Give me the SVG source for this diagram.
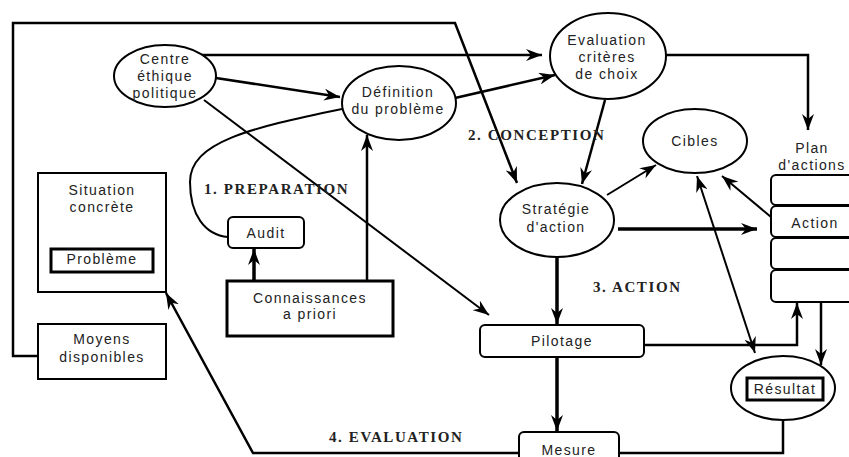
<svg xmlns="http://www.w3.org/2000/svg" width="849" height="457" viewBox="0 0 849 457">
<style>
.n{fill:#fff;stroke:#000;stroke-width:2}
.tk{fill:#fff;stroke:#000;stroke-width:3}
.t{font-family:"Liberation Sans",Arial,sans-serif;font-size:14px;letter-spacing:1.4px;fill:#222;text-anchor:middle}
.lb{font-family:"Liberation Serif","Times New Roman",serif;font-size:15px;font-weight:bold;letter-spacing:1.6px;fill:#222}
.c{fill:none;stroke:#000;stroke-width:2.5;stroke-linejoin:miter}
.c2{fill:none;stroke:#000;stroke-width:2}
.c3{fill:none;stroke:#000;stroke-width:3.5}
.a{marker-end:url(#ah)}
</style>
<defs>
<marker id="ah" viewBox="0 0 16 12" refX="16" refY="6" markerWidth="16" markerHeight="12" markerUnits="userSpaceOnUse" orient="auto-start-reverse">
<path d="M0,0 L16,6 L0,12 L5,6 z" fill="#000"/>
</marker>
</defs>
<rect width="849" height="457" fill="#fff"/>
<g id="connectors">
<path class="c a" d="M38,356 L13,356 L13,23 L455,23 L517,183"/>
<path class="c a" d="M200,55 L542,55"/>
<path class="c a" d="M216,78 L340,97"/>
<path class="c2 a" d="M204,100 L489,315"/>
<path class="c a" d="M455,98 L555,75"/>
<path class="c2" d="M228,237 C205,235 190,215 190,182 C190,142 250,128 342,109"/>
<path class="c3 a" d="M254,281 L254,249"/>
<path class="c a" d="M367,281 L367,135"/>
<path class="c a" d="M605,100 L582,184"/>
<path class="c a" d="M666,55 L808,55 L808,130"/>
<path class="c2 a" d="M607,195 L656,165"/>
<path class="c3 a" d="M618,229 L757,229"/>
<path class="c2 a" d="M771,217 L722,176"/>
<path class="c2 a" style="marker-start:url(#ah)" d="M697,176 L755,353"/>
<path class="c3 a" d="M557,257 L557,324"/>
<path class="c a" d="M644,345 L797,345 L797,303"/>
<path class="c a" d="M821,302 L821,365"/>
<path class="c3 a" d="M557,357 L557,431"/>
<path class="c" d="M783,420 L783,453 L619,453"/>
<path class="c a" d="M519,453 L253,453 L166,293"/>
</g>
<g id="centre">
<ellipse class="n" cx="165" cy="76" rx="51" ry="31"/>
<text class="t" x="165" y="64">Centre</text>
<text class="t" x="165" y="81">éthique</text>
<text class="t" x="165" y="98">politique</text>
</g>
<g id="definition">
<ellipse class="n" cx="399" cy="103" rx="57" ry="37"/>
<text class="t" x="398" y="97">Définition</text>
<text class="t" x="398" y="114">du problème</text>
</g>
<g id="evaluation">
<ellipse class="n" cx="608" cy="56" rx="58" ry="43"/>
<text class="t" x="607" y="45">Evaluation</text>
<text class="t" x="607" y="62">critères</text>
<text class="t" x="607" y="79">de choix</text>
</g>
<g id="strategie">
<ellipse class="n" cx="557" cy="220" rx="57" ry="37"/>
<text class="t" x="556" y="214">Stratégie</text>
<text class="t" x="556" y="232">d'action</text>
</g>
<g id="cibles">
<ellipse class="n" cx="695" cy="141" rx="52" ry="32"/>
<text class="t" x="695" y="146">Cibles</text>
</g>
<g id="plan">
<text class="t" x="812" y="153">Plan</text>
<text class="t" x="812" y="170">d'actions</text>
<rect class="n" x="771" y="175" width="95" height="30" rx="5"/>
<rect class="n" x="771" y="206" width="95" height="31" rx="5"/>
<rect class="n" x="771" y="238" width="95" height="31" rx="5"/>
<rect class="n" x="771" y="270" width="95" height="32" rx="5"/>
<text class="t" x="815" y="228">Action</text>
</g>
<g id="situation">
<rect class="n" x="38" y="173" width="128" height="119"/>
<text class="t" x="102" y="195">Situation</text>
<text class="t" x="102" y="212">concrète</text>
<rect class="tk" x="51" y="249" width="102" height="23"/>
<text class="t" x="102" y="264">Problème</text>
</g>
<g id="moyens">
<rect class="n" x="38" y="324" width="128" height="55"/>
<text class="t" x="102" y="344">Moyens</text>
<text class="t" x="102" y="362">disponibles</text>
</g>
<g id="audit">
<rect class="n" x="228" y="217" width="76" height="31" rx="5"/>
<text class="t" x="266" y="238">Audit</text>
</g>
<g id="connaissances">
<rect class="tk" x="227" y="281" width="166" height="55"/>
<text class="t" x="310" y="303">Connaissances</text>
<text class="t" x="310" y="319">a priori</text>
</g>
<g id="pilotage">
<rect class="n" x="480" y="325" width="164" height="32" rx="5"/>
<text class="t" x="562" y="346">Pilotage</text>
</g>
<g id="mesure">
<rect class="n" x="519" y="432" width="100" height="34" rx="5"/>
<text class="t" x="569" y="455">Mesure</text>
</g>
<g id="resultat">
<ellipse class="n" cx="783" cy="388" rx="52" ry="32"/>
<rect class="tk" x="747" y="378" width="76" height="22"/>
<text class="t" x="785" y="394">Résultat</text>
</g>
<g id="labels">
<text class="lb" x="204" y="194">1. PREPARATION</text>
<text class="lb" x="468" y="140">2. CONCEPTION</text>
<text class="lb" x="593" y="292">3. ACTION</text>
<text class="lb" x="329" y="442">4. EVALUATION</text>
</g>
</svg>
